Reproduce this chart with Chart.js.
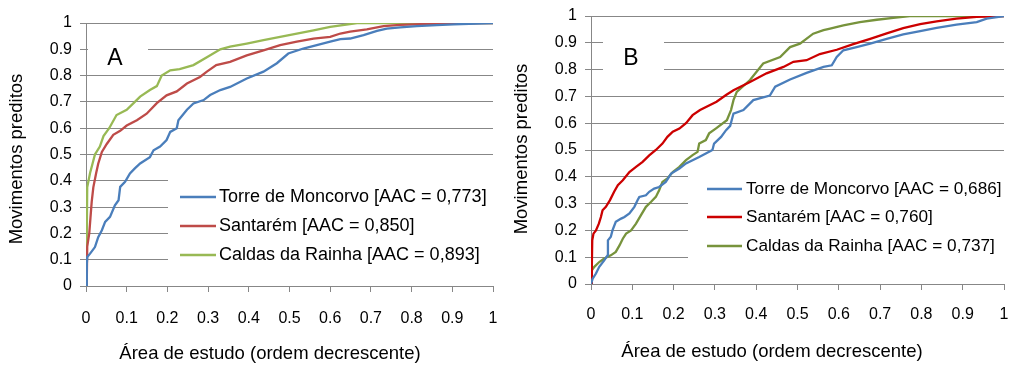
<!DOCTYPE html>
<html><head><meta charset="utf-8">
<script src="https://cdn.jsdelivr.net/npm/chart.js@4"></script>
<style>
html,body{margin:0;padding:0;background:#fff;width:1009px;height:365px;overflow:hidden}
canvas{position:absolute;top:0}
#ca{left:0}
#cb{left:505px}
</style></head>
<body>
<canvas id="ca" width="505" height="365"></canvas>
<canvas id="cb" width="504" height="365"></canvas>
<script>
// ---- tick labels ----
const xTickLabels = ['0','0.1','0.2','0.3','0.4','0.5','0.6','0.7','0.8','0.9','1'];
const yTickLabels = ['0','0.1','0.2','0.3','0.4','0.5','0.6','0.7','0.8','0.9','1'];
const seriesNames = ['Torre de Moncorvo','Santarém','Caldas da Rainha'];
const aacA = ['0,773','0,850','0,893'];
const aacB = ['0,686','0,760','0,737'];
const xTitle = 'Área de estudo (ordem decrescente)';
const yTitle = 'Movimentos preditos';
const panelLetters = ['A','B'];

// ---- Panel A series ----
const aTorreX = [0,0.002,0.003,0.01,0.022,0.03,0.039,0.047,0.059,0.071,0.08,0.084,0.096,0.108,0.12,0.133,0.157,0.166,0.182,0.198,0.207,0.223,0.227,0.248,0.264,0.289,0.305,0.33,0.354,0.395,0.436,0.469,0.497,0.534,0.567,0.6,0.625,0.649,0.682,0.715,0.739,0.772,0.813,0.862,0.903,1];
const aTorreY = [0,0.085,0.11,0.123,0.148,0.186,0.212,0.244,0.263,0.307,0.326,0.377,0.396,0.428,0.447,0.466,0.49,0.516,0.53,0.555,0.586,0.6,0.63,0.67,0.694,0.707,0.726,0.745,0.757,0.789,0.815,0.847,0.884,0.903,0.916,0.929,0.939,0.941,0.954,0.97,0.979,0.983,0.988,0.992,0.995,1];
const aSantX = [0,0.002,0.003,0.008,0.011,0.014,0.018,0.025,0.03,0.039,0.051,0.067,0.084,0.1,0.125,0.149,0.174,0.198,0.223,0.248,0.28,0.297,0.32,0.354,0.395,0.436,0.477,0.518,0.559,0.6,0.625,0.649,0.69,0.731,0.772,0.829,0.969,1];
const aSantY = [0,0.03,0.15,0.2,0.26,0.32,0.375,0.43,0.465,0.51,0.54,0.575,0.59,0.61,0.63,0.655,0.695,0.725,0.74,0.77,0.795,0.815,0.84,0.852,0.877,0.896,0.916,0.929,0.941,0.947,0.96,0.967,0.976,0.988,0.993,0.996,1,1];
const aCaldX = [0,0.002,0.003,0.01,0.016,0.022,0.034,0.043,0.057,0.075,0.1,0.12,0.133,0.157,0.174,0.186,0.207,0.23,0.264,0.297,0.33,0.354,0.395,0.436,0.477,0.518,0.559,0.6,0.666,1];
const aCaldY = [0,0.21,0.375,0.43,0.465,0.5,0.53,0.57,0.6,0.65,0.67,0.7,0.72,0.745,0.76,0.8,0.82,0.825,0.84,0.87,0.9,0.91,0.922,0.935,0.947,0.96,0.972,0.985,1,1];

// ---- Panel B series ----
const bTorreX = [0,0.004,0.012,0.02,0.032,0.04,0.041,0.048,0.052,0.06,0.073,0.081,0.093,0.105,0.113,0.117,0.133,0.141,0.153,0.165,0.181,0.194,0.214,0.23,0.246,0.262,0.278,0.294,0.298,0.315,0.327,0.337,0.345,0.369,0.393,0.433,0.446,0.482,0.522,0.563,0.583,0.595,0.611,0.643,0.676,0.716,0.756,0.797,0.837,0.885,0.934,0.958,1];
const bTorreY = [0,0.02,0.039,0.064,0.088,0.107,0.163,0.176,0.2,0.232,0.244,0.25,0.263,0.288,0.313,0.325,0.331,0.344,0.356,0.362,0.381,0.412,0.431,0.45,0.462,0.474,0.487,0.5,0.524,0.549,0.574,0.59,0.636,0.649,0.686,0.703,0.736,0.763,0.788,0.81,0.816,0.847,0.872,0.884,0.897,0.915,0.931,0.944,0.956,0.968,0.977,0.99,1];
const bSantX = [0,0.002,0.003,0.006,0.012,0.019,0.024,0.028,0.036,0.046,0.056,0.065,0.077,0.093,0.109,0.125,0.141,0.157,0.173,0.185,0.198,0.214,0.23,0.246,0.264,0.304,0.327,0.345,0.385,0.425,0.466,0.49,0.522,0.554,0.595,0.635,0.676,0.716,0.756,0.797,0.837,0.885,0.934,1];
const bSantY = [0,0.064,0.163,0.188,0.2,0.225,0.25,0.275,0.288,0.313,0.344,0.369,0.387,0.418,0.437,0.456,0.48,0.5,0.524,0.549,0.568,0.58,0.6,0.63,0.649,0.68,0.705,0.723,0.754,0.786,0.81,0.829,0.835,0.858,0.874,0.895,0.915,0.935,0.955,0.97,0.98,0.99,0.997,1];
const bCaldX = [0,0.002,0.008,0.02,0.032,0.048,0.06,0.069,0.077,0.085,0.097,0.109,0.121,0.133,0.145,0.157,0.165,0.173,0.185,0.198,0.214,0.23,0.246,0.258,0.262,0.278,0.286,0.302,0.329,0.339,0.345,0.353,0.385,0.417,0.458,0.482,0.506,0.538,0.563,0.579,0.611,0.651,0.692,0.732,0.772,1];
const bCaldY = [0,0.051,0.064,0.082,0.095,0.107,0.12,0.144,0.169,0.188,0.2,0.225,0.257,0.288,0.306,0.325,0.35,0.381,0.394,0.418,0.437,0.462,0.481,0.493,0.524,0.537,0.562,0.58,0.611,0.649,0.686,0.717,0.761,0.823,0.847,0.884,0.897,0.934,0.947,0.953,0.965,0.977,0.986,0.993,1,1];

const FONT = '"Liberation Sans", Arial, sans-serif';
const GRID = '#878787';

function pts(xs, ys){ return xs.map((x,i)=>({x:x, y:ys[i]})); }

function makeDecor(cfg){
  return {
    id: 'decor',
    beforeDatasetsDraw(chart){
      const ctx = chart.ctx; ctx.save(); ctx.fillStyle = '#fff';
      cfg.boxes.forEach(r => ctx.fillRect(r[0], r[1], r[2]-r[0], r[3]-r[1]));
      ctx.restore();
    },
    afterDraw(chart){
      const ctx = chart.ctx; ctx.save();
      ctx.fillStyle = '#000'; ctx.textBaseline = 'middle';
      ctx.font = '23px ' + FONT; ctx.textAlign = 'center';
      ctx.fillText(cfg.letter, cfg.letterX, cfg.letterY);
      ctx.font = cfg.legendSize + 'px ' + FONT; ctx.textAlign = 'left';
      chart.data.datasets.forEach((ds, i) => {
        const y = cfg.legendY[i];
        ctx.strokeStyle = ds.borderColor; ctx.lineWidth = 2.5;
        ctx.beginPath(); ctx.moveTo(cfg.legendX0, y); ctx.lineTo(cfg.legendX1, y); ctx.stroke();
        ctx.fillStyle = '#000'; ctx.fillText(ds.label, cfg.legendTextX, y);
      });
      ctx.font = '18.5px ' + FONT; ctx.textAlign = 'center';
      ctx.fillText(xTitle, cfg.xTitleX, cfg.xTitleY);
      ctx.translate(cfg.yTitleX, cfg.yTitleY); ctx.rotate(-Math.PI/2);
      ctx.fillText(yTitle, 0, 0);
      ctx.restore();
    }
  };
}

function makeChart(id, series, colors, aac, layout, decorCfg){
  const datasets = series.map((s, i) => ({
    label: seriesNames[i] + ' [AAC = ' + aac[i] + ']',
    data: pts(s[0], s[1]),
    borderColor: colors[i],
    backgroundColor: colors[i],
    borderWidth: 2.3,
    pointRadius: 0,
    tension: 0,
    fill: false
  }));
  return new Chart(document.getElementById(id), {
    type: 'line',
    data: { datasets: datasets },
    options: {
      responsive: false, animation: false, events: [],
      layout: { padding: { top: layout.top, right: layout.right, left: 0, bottom: 0 } },
      plugins: { legend: { display: false }, tooltip: { enabled: false } },
      scales: {
        x: {
          type: 'linear', min: 0, max: 1,
          afterFit: s => { s.height = layout.xh; s.paddingLeft = 0; s.paddingRight = 0; s.paddingTop = 0; s.paddingBottom = 0; },
          ticks: { stepSize: 0.1, autoSkip: false, maxRotation: 0, padding: layout.xpad,
                   color: '#000', font: { family: FONT, size: 16 },
                   callback: (v, i) => xTickLabels[i] },
          grid: { drawOnChartArea: false, drawTicks: true, tickLength: 6, color: GRID },
          border: { display: true, color: GRID, width: 1 }
        },
        y: {
          type: 'linear', min: 0, max: 1,
          afterFit: s => { s.width = 86; s.paddingLeft = 0; s.paddingRight = 0; s.paddingTop = 0; s.paddingBottom = 0; },
          ticks: { stepSize: 0.1, autoSkip: false, padding: 8,
                   color: '#000', font: { family: FONT, size: 16 },
                   callback: (v, i) => yTickLabels[i] },
          grid: { drawOnChartArea: true, drawTicks: true, tickLength: 6, color: GRID, lineWidth: 1 },
          border: { display: true, color: GRID, width: 1 }
        }
      }
    },
    plugins: [makeDecor(decorCfg)]
  });
}

makeChart('ca',
  [[aTorreX, aTorreY], [aSantX, aSantY], [aCaldX, aCaldY]],
  ['#4a7ebb', '#be4b48', '#98b954'], aacA,
  { top: 23, right: 12, xh: 79, xpad: 17 },
  { boxes: [[88, 38, 148, 70], [168, 166, 494, 270]],
    letter: panelLetters[0], letterX: 115, letterY: 59, legendSize: 18,
    legendY: [197, 226, 255], legendX0: 180, legendX1: 216, legendTextX: 219,
    xTitleX: 270, xTitleY: 354, yTitleX: 17, yTitleY: 159 });

makeChart('cb',
  [[bTorreX, bTorreY], [bSantX, bSantY], [bCaldX, bCaldY]],
  ['#4a7ebb', '#cc0000', '#77933c'], aacB,
  { top: 16, right: 5, xh: 81, xpad: 15 },
  { boxes: [[98, 33, 159, 80], [183, 163, 500, 268]],
    letter: panelLetters[1], letterX: 126, letterY: 59, legendSize: 17.2,
    legendY: [189, 217, 246], legendX0: 202, legendX1: 237, legendTextX: 241,
    xTitleX: 267, xTitleY: 352, yTitleX: 17, yTitleY: 149 });
</script>
</body></html>
